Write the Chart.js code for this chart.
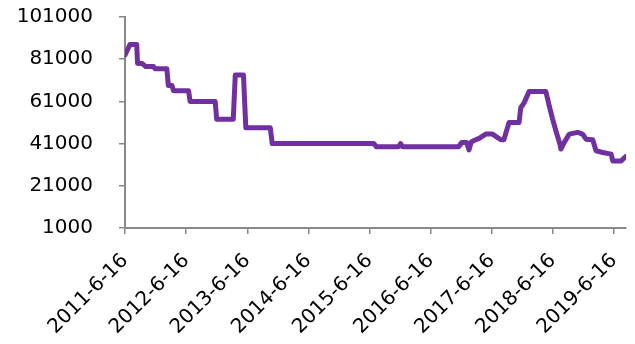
<!DOCTYPE html>
<html>
<head>
<meta charset="utf-8">
<script src="https://cdn.jsdelivr.net/npm/chart.js@4"></script>
<style>
  html, body { margin: 0; padding: 0; background: #fff; }
  #wrap { width: 635px; height: 344px; }
</style>
</head>
<body>
<div id="wrap"><canvas id="chart"></canvas></div>
<script>
const dates = [
  '2011-06-16', '2011-07-16', '2011-08-25', '2011-08-30', '2011-09-26', '2011-10-18',
  '2011-12-04', '2011-12-13', '2012-02-21', '2012-03-01', '2012-03-23', '2012-04-01',
  '2012-06-30', '2012-07-09', '2012-12-06', '2012-12-15', '2013-03-24', '2013-04-05',
  '2013-05-24', '2013-06-07', '2013-10-31', '2013-11-12', '2015-07-12', '2015-07-28',
  '2015-12-07', '2015-12-19', '2015-12-31', '2016-11-30', '2016-12-18', '2017-01-17',
  '2017-01-31', '2017-02-13', '2017-03-02', '2017-04-01', '2017-05-11', '2017-06-20',
  '2017-08-09', '2017-08-27', '2017-09-27', '2017-11-26', '2017-12-06', '2017-12-26',
  '2018-01-25', '2018-05-05', '2018-05-25', '2018-06-14', '2018-07-04', '2018-07-28',
  '2018-08-03', '2018-08-23', '2018-09-22', '2018-11-11', '2018-12-11', '2018-12-31',
  '2019-02-09', '2019-03-01', '2019-04-10', '2019-05-30', '2019-06-09', '2019-07-29',
  '2019-08-27'
];
const prices = [
  83000, 88000, 88000, 79000, 79000, 77500,
  77500, 76500, 76500, 68500, 68500, 66000,
  66000, 61000, 61000, 52500, 52500, 73500,
  73500, 48500, 48500, 41000, 41000, 39500,
  39500, 41000, 39500, 39500, 41500, 41500,
  38000, 41800, 42500, 43500, 45500, 45500,
  42800, 42800, 51000, 51000, 58000, 60300,
  65700, 65700, 59000, 52700, 47100, 40800,
  38400, 41600, 45500, 46300, 45500, 43100,
  42800, 37600, 36800, 36000, 32800, 32800,
  34900
];
const tickDates = [
  '2011-06-16', '2012-06-16', '2013-06-16', '2014-06-16', '2015-06-16',
  '2016-06-16', '2017-06-16', '2018-06-16', '2019-06-16'
];
const tickLabels = [
  '2011-6-16', '2012-6-16', '2013-6-16', '2014-6-16', '2015-6-16',
  '2016-6-16', '2017-6-16', '2018-6-16', '2019-6-16'
];
const yTicks = [1000, 21000, 41000, 61000, 81000, 101000];

const toMs = s => {
  const [y, m, d] = s.split('-').map(Number);
  return Date.UTC(y, m - 1, d);
};

const axisGray = '#898989';
const font = { family: 'DejaVu Sans', size: 20 };

// drop the automatic label padding so the plot box sits where the layout padding says
const noPad = s => { s.paddingTop = 0; s.paddingBottom = 0; s.paddingLeft = 0; s.paddingRight = 0; };

new Chart(document.getElementById('chart').getContext('2d'), {
  type: 'line',
  data: {
    datasets: [{
      data: dates.map((d, i) => ({ x: toMs(d), y: prices[i] })),
      borderColor: '#7030a0',
      borderWidth: 5,
      borderCapStyle: 'round',
      borderJoinStyle: 'round',
      pointRadius: 0,
      tension: 0,
      fill: false,
    }],
  },
  options: {
    responsive: true,
    maintainAspectRatio: false,
    animation: false,
    layout: { padding: { top: 17, right: 9, left: 0, bottom: 0 } },
    plugins: { legend: { display: false }, tooltip: { enabled: false } },
    scales: {
      x: {
        type: 'linear',
        min: toMs(dates[0]),
        max: toMs(dates[dates.length - 1]),
        afterBuildTicks: s => { s.ticks = tickDates.map(d => ({ value: toMs(d) })); },
        afterFit: s => { s.height = 116; noPad(s); },
        ticks: {
          autoSkip: false,
          maxRotation: 45,
          minRotation: 45,
          color: '#000',
          font,
          padding: 15,
          callback: (v, i) => tickLabels[i],
        },
        grid: { drawOnChartArea: false, drawTicks: true, tickLength: 6, color: axisGray, lineWidth: 1.5 },
        border: { color: axisGray, width: 2 },
      },
      y: {
        min: 1000,
        max: 101000,
        afterBuildTicks: s => { s.ticks = yTicks.map(v => ({ value: v })); },
        afterFit: s => { s.width = 125; noPad(s); },
        ticks: { color: '#000', font, padding: 26, callback: v => String(v) },
        grid: { drawOnChartArea: false, drawTicks: true, tickLength: 6, color: axisGray, lineWidth: 1.5 },
        border: { color: axisGray, width: 2 },
      },
    },
  },
});
</script>
</body>
</html>
